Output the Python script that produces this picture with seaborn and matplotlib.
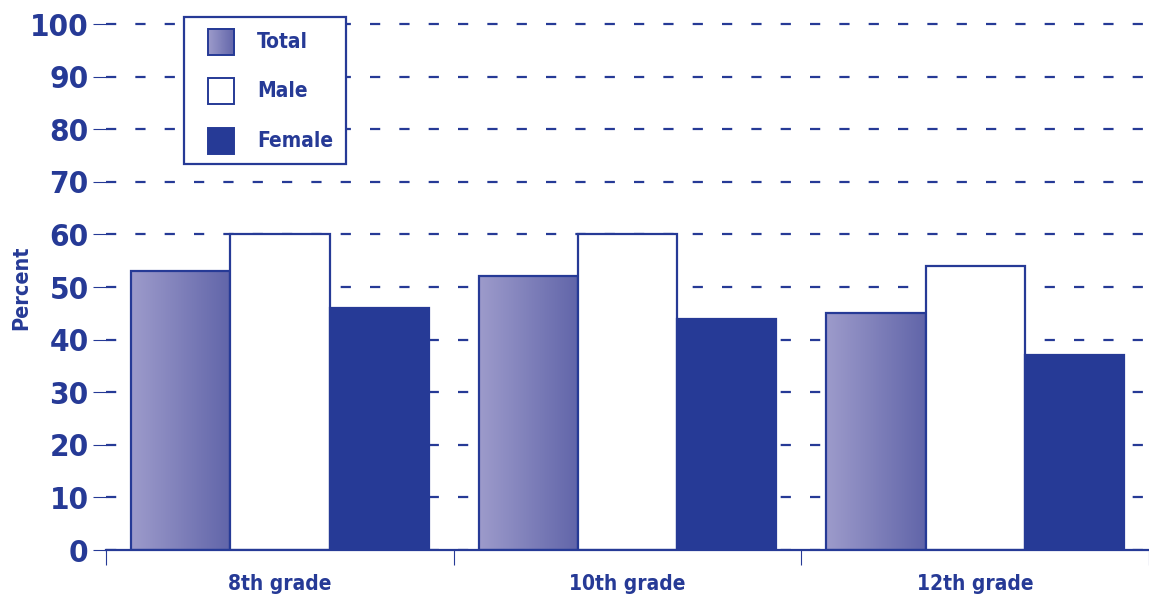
import numpy as np
import pandas as pd
import matplotlib
matplotlib.use("Agg")
import matplotlib.pyplot as plt
import matplotlib.font_manager as fm
import matplotlib.patheffects as pe
import seaborn as sns
from matplotlib.colors import LinearSegmentedColormap
from matplotlib.legend_handler import HandlerBase
from matplotlib.image import BboxImage
from matplotlib.transforms import Bbox, TransformedBbox
from matplotlib.patches import Rectangle

# data
grades = ["8th grade", "10th grade", "12th grade"]
groups = ["Total", "Male", "Female"]
total = [53, 52, 45]
male = [60, 60, 54]
female = [46, 44, 37]
yticks = [0, 10, 20, 30, 40, 50, 60, 70, 80, 90, 100]

BLUE = "#263a96"
grad_cmap = LinearSegmentedColormap.from_list("tot", ["#9d9bcb", "#6165a9"])

df = pd.DataFrame({
    "grade": np.repeat(grades, 3),
    "group": groups * 3,
    "pct": [v for trio in zip(total, male, female) for v in trio],
})


def is_heavy(f):
    w = f.weight
    if isinstance(w, str):
        return w.lower() in ("bold", "heavy", "black", "extra bold", "ultrabold", "demibold", "semibold")
    return w >= 600


def is_narrow(f):
    return ("Narrow" in f.name or "Condensed" in f.name
            or str(f.stretch) in ("condensed", "semi-condensed", "extra-condensed"))


# the original uses a condensed black type; find the closest installed face
fonts = fm.fontManager.ttflist
bold_narrow = [f for f in fonts if is_narrow(f) and is_heavy(f)]
any_narrow = [f for f in fonts if is_narrow(f)]
FAKE_BOLD = False
if bold_narrow:
    pick = bold_narrow[0]
elif any_narrow:
    pick = any_narrow[0]
    FAKE_BOLD = True
else:
    pick = None

if pick is not None:
    FAMILY = [pick.name, "DejaVu Sans"]
    STRETCH = str(pick.stretch) if str(pick.stretch) != "normal" else "normal"
else:
    FAMILY = ["Liberation Sans", "DejaVu Sans"]
    STRETCH = "normal"

sns.set_style("white")
plt.rcParams["font.family"] = FAMILY
plt.rcParams["font.stretch"] = STRETCH
plt.rcParams["font.weight"] = "bold"

fx = [pe.withStroke(linewidth=1.3, foreground=BLUE)] if FAKE_BOLD else []

fig = plt.figure(figsize=(11.49, 5.97), dpi=100)
ax = fig.add_axes([0.0923, 0.0787, 0.9077, 0.8855])

sns.barplot(data=df, x="grade", y="pct", hue="group", order=grades,
            hue_order=groups, palette={"Total": "white", "Male": "white", "Female": BLUE},
            width=0.857, gap=0, edgecolor=BLUE, linewidth=1.6, legend=False,
            saturation=1, ax=ax, zorder=2)

# gradient fill for the Total bars
grad = np.linspace(0, 1, 128).reshape(1, -1)
for bar in ax.containers[0]:
    x0, y0 = bar.get_xy()
    w, h = bar.get_width(), bar.get_height()
    bar.set_facecolor("none")
    ax.imshow(grad, extent=[x0, x0 + w, y0, y0 + h], cmap=grad_cmap,
              aspect="auto", interpolation="bilinear", zorder=1.9)

ax.set_xlim(-0.5, 2.47)
ax.set_ylim(0, 100.5)
ax.set_yticks(yticks)
ax.set_yticklabels([str(t) for t in yticks], fontsize=22.5, color=BLUE, fontweight="bold")
ax.tick_params(axis="y", length=9.5, width=0.8, color=BLUE, pad=3, left=True)

ax.set_xticks(range(len(grades)))
ax.set_xticklabels(grades, fontsize=15, color=BLUE, fontweight="bold")
ax.set_xticks([-0.5, 0.5, 1.5, 2.5], minor=True)
ax.tick_params(axis="x", which="major", length=0, pad=17)
ax.tick_params(axis="x", which="minor", length=11, width=0.8, color=BLUE, bottom=True)

ax.set_axisbelow(True)
ax.yaxis.grid(True, color=BLUE, linewidth=1.6, linestyle=(0, (4.6, 8.6)))
ax.xaxis.grid(False)

for side in ["top", "right", "left"]:
    ax.spines[side].set_visible(False)
ax.spines["bottom"].set_color(BLUE)
ax.spines["bottom"].set_linewidth(1.6)
ax.spines["bottom"].set_zorder(3)

ax.set_xlabel("")
ax.set_ylabel("Percent", fontsize=15.5, color=BLUE, fontweight="bold")
ax.yaxis.set_label_coords(-0.072, 0.496)

for t in ax.get_xticklabels() + ax.get_yticklabels() + [ax.yaxis.label]:
    t.set_path_effects(fx)


class SquareHandler(HandlerBase):
    def __init__(self, kind):
        super().__init__()
        self.kind = kind

    def create_artists(self, legend, orig_handle, xdescent, ydescent,
                       width, height, fontsize, trans):
        size = height + ydescent
        x = -xdescent + width - size
        y = -ydescent - 0.13 * fontsize
        arts = []
        if self.kind == "gradient":
            bb = TransformedBbox(Bbox.from_bounds(x, y, size, size), trans)
            img = BboxImage(bb, cmap=grad_cmap, interpolation="bilinear")
            img.set_data(grad)
            arts.append(img)
            face = "none"
        else:
            face = self.kind
        rect = Rectangle((x, y), size, size, facecolor=face,
                         edgecolor=BLUE, linewidth=1.4, transform=trans)
        arts.append(rect)
        return arts


h_tot, h_male, h_fem = object(), object(), object()
leg = fig.legend([h_tot, h_male, h_fem], groups,
                 handler_map={h_tot: SquareHandler("gradient"),
                              h_male: SquareHandler("white"),
                              h_fem: SquareHandler(BLUE)},
                 loc="upper left", bbox_to_anchor=(184 / 1149, 1 - 17 / 597),
                 bbox_transform=fig.transFigure, borderaxespad=0,
                 handlelength=1.8, handleheight=1.25,
                 handletextpad=1.1, labelspacing=1.32, borderpad=0.62,
                 fancybox=False, framealpha=1, edgecolor=BLUE,
                 labelcolor=BLUE, prop={"weight": "bold", "size": 15,
                                        "family": FAMILY, "stretch": STRETCH})
leg.get_frame().set_linewidth(1.6)
for t in leg.get_texts():
    t.set_path_effects(fx)

fig.savefig("out.png", dpi=100)
